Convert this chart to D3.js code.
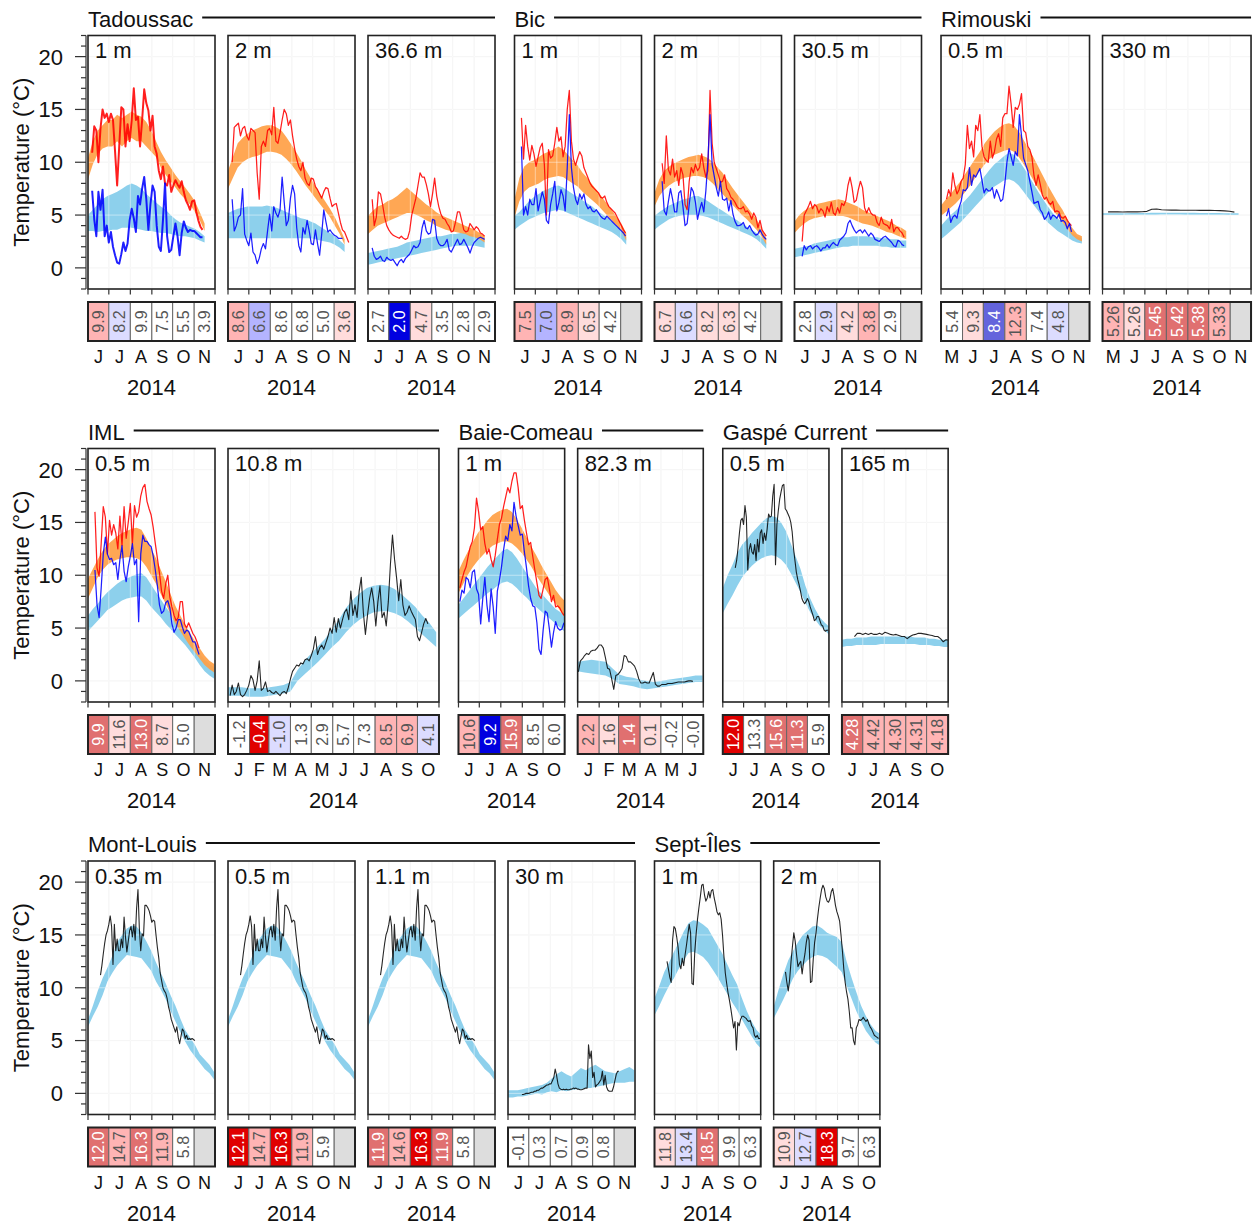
<!DOCTYPE html>
<html><head><meta charset="utf-8">
<script src="https://cdn.jsdelivr.net/npm/d3@7"></script>
<style>body{margin:0;background:#fff}</style>
</head><body><svg id="c" width="1253" height="1224"></svg>
<script>
// ---------------- DATA ----------------
const YEAR = 2014;
const MONTHS = ["J","F","M","A","M","J","J","A","S","O","N","D"];
const Y_TICKS = [0,5,10,15,20];

// Tadoussac 1 m
const tad1OrLo = [8.4,9.8,10.8,11.3,11.5,11.5,12,11.5,12,12.3,12,12,11.5,11,10.5,9.5,8.8,8.2,7.6,7,6.5,6,5.3,4.5,3.5];
const tad1OrHi = [10.4,12,13,13.5,14,14,14.5,14.2,14.5,14.8,14.5,14.3,13.8,13,12,11,10.2,9.5,8.8,8.2,7.6,7,6.3,5.3,4.2];
const tad1LbLo = [3.5,3.5,3.4,3.5,3.5,3.6,3.6,3.8,3.8,3.8,3.7,3.6,3.5,3.5,3.4,3.3,3.3,3.2,3.1,3.0,3.0,2.9,2.8,2.6,2.4];
const tad1LbHi = [5.0,5.5,6.0,6.5,6.8,7.0,7.2,7.5,7.8,8.0,7.8,7.5,7.0,6.6,6.2,5.8,5.5,5.0,4.6,4.3,4.1,3.9,3.7,3.4,3.0];
const tad1Red = [10.9,13.4,13.0,10.0,13.2,15.0,14.2,14.6,13.8,14.6,14.0,11.0,7.8,11.5,15.2,15.0,11.5,13.6,12.0,14.0,17.0,14.0,14.3,11.5,14.0,16.9,15.6,14.9,13.0,14.4,11.5,10.8,9.2,8.4,9.6,8.0,7.8,8.8,7.2,7.8,8.3,7.9,7.6,8.2,7.2,6.4,6.0,5.5,6.3,6.4,5.3,4.5,3.9,3.6];
const tad1Blue = [7.3,4.6,3.0,7.2,5.5,7.4,3.0,4.0,2.4,3.4,2.0,1.2,0.5,0.4,1.3,2.4,1.6,2.3,4.5,5.6,4.7,3.4,6.8,6.0,7.5,8.6,6.5,3.6,6.0,7.8,7.2,4.0,2.0,1.6,4.5,8.0,3.0,1.5,1.7,3.0,4.2,3.0,1.2,3.3,4.4,3.8,3.4,3.6,3.5,3.5,3.3,3.1,2.9,2.9];
const tad1Tab = ["9.9","8.2","9.9","7.5","5.5","3.9"];
const tad1Lv = [2,-1,0,0,0,0];

// Tadoussac 2 m
const tad2OrLo = [7.5,8.5,9.5,10.0,10.3,10.5,10.6,10.8,11.0,11.0,10.9,10.7,10.3,9.8,9.2,8.5,7.8,7.2,6.6,6.0,5.4,4.8,4.0,3.2,2.2];
const tad2OrHi = [9.2,10.5,11.8,12.3,12.7,13.0,13.2,13.4,13.5,13.5,13.3,13.0,12.4,11.7,11.0,10.2,9.3,8.5,7.7,7.0,6.3,5.6,4.8,3.8,2.7];
const tad2LbLo = [2.8,2.8,2.8,2.8,2.8,2.8,2.8,2.8,2.8,2.8,2.8,2.8,2.8,2.8,2.8,2.8,2.8,2.8,2.7,2.6,2.5,2.4,2.2,1.9,1.5];
const tad2LbHi = [5.2,5.4,5.6,5.7,5.8,5.8,5.8,5.8,5.9,5.8,5.7,5.5,5.3,5.1,4.9,4.7,4.6,4.4,4.2,3.9,3.6,3.3,3.0,2.6,2.2];
const tad2Red = [10.0,13.3,13.5,13.7,12.5,13.2,13.4,12.5,12.1,13.2,13.0,12.8,9.0,6.5,11.5,12.0,11.5,13.0,13.2,12.6,15.2,12.0,11.8,12.8,14.0,15.0,14.6,13.5,14.0,12.5,11.3,10.3,9.6,9.2,10.0,8.5,8.0,7.8,8.5,8.4,7.7,7.4,7.0,6.6,7.2,7.6,7.5,6.6,5.8,6.0,6.1,5.2,4.3,3.6,3.4,2.9,2.4];
const tad2Blue = [6.5,3.5,4.0,4.8,5.0,7.5,3.2,2.6,2.1,3.3,1.5,1.2,0.4,0.9,1.8,2.3,1.8,3.5,5.1,3.5,5.8,5.2,4.8,5.5,8.6,6.2,4.0,4.5,6.6,7.8,7.0,3.8,2.1,1.5,3.8,3.2,4.5,3.5,2.3,2.2,3.6,2.3,1.2,3.2,5.5,4.4,3.4,3.6,3.3,3.1,3.0,2.8,2.8,2.8];
const tad2Tab = ["8.6","6.6","8.6","6.8","5.0","3.6"];
const tad2Lv = [2,-2,0,0,0,1];

// Tadoussac 36.6 m
const t36OrLo = [3.2,3.6,4.0,4.2,4.4,4.6,4.8,5.0,5.2,5.2,5.0,4.8,4.5,4.3,4.0,3.8,3.6,3.5,3.4,3.3,3.2,3.0,2.9,2.7,2.4];
const t36OrHi = [4.9,5.4,5.8,6.0,6.3,6.5,6.8,7.2,7.6,7.2,6.8,6.4,6.0,5.7,5.3,5.0,4.8,4.6,4.4,4.2,4.0,3.8,3.6,3.3,3.0];
const t36LbLo = [0.3,0.4,0.5,0.6,0.7,0.8,0.9,1.0,1.1,1.2,1.3,1.4,1.5,1.6,1.7,1.8,1.9,2.0,2.1,2.1,2.1,2.1,2.1,2.0,1.9];
const t36LbHi = [1.4,1.5,1.6,1.7,1.8,1.9,2.0,2.2,2.4,2.5,2.6,2.7,2.8,2.9,3.0,3.0,3.1,3.2,3.2,3.3,3.3,3.2,3.2,3.1,2.9];
const t36Red = [6.5,4.0,4.8,7.2,7.0,6.0,4.8,4.0,3.6,3.3,3.1,3.0,2.9,2.8,3.0,2.8,2.7,2.8,3.5,5.0,5.8,6.6,7.8,9.0,8.6,8.6,7.9,7.0,5.8,7.0,8.5,6.8,5.8,5.1,4.7,4.6,4.2,3.9,3.4,3.5,4.3,5.3,5.3,4.5,3.6,3.4,3.5,4.2,3.9,3.6,3.9,3.7,3.3,3.2,3.0];
const t36Blue = [1.9,1.1,0.8,0.9,1.1,0.7,0.6,1.0,0.8,0.7,0.8,0.5,0.2,0.6,0.8,0.5,0.9,1.1,1.3,1.7,2.1,1.9,2.0,2.4,3.8,4.5,3.5,3.2,3.3,4.6,4.5,2.8,2.3,2.1,2.1,2.3,2.7,1.7,1.5,1.9,2.3,2.7,2.2,2.3,2.7,2.3,1.9,1.4,2.0,2.4,2.6,2.8,2.9,2.8,2.7];
const t36Tab = ["2.7","2.0","4.7","3.5","2.8","2.9"];
const t36Lv = [0,-4,1,0,0,0];

// Bic 1 m
const bic1OrLo = [4.8,6.3,7.2,7.6,7.8,8.0,8.3,8.5,8.6,8.7,8.6,8.3,8.0,7.7,7.2,6.8,6.4,6.0,5.5,5.0,4.5,4.0,3.5,2.6];
const bic1OrHi = [6.5,8.5,9.6,10.0,10.2,10.5,10.8,11.0,11.2,11.5,11.2,10.7,10.2,9.7,9.0,8.5,7.9,7.3,6.7,6.1,5.5,4.8,4.2,3.3];
const bic1LbLo = [3.6,4.0,4.3,4.6,4.8,5.0,5.2,5.3,5.4,5.5,5.4,5.2,5.0,4.8,4.6,4.4,4.2,4.0,3.8,3.6,3.4,3.1,2.7,2.2];
const bic1LbHi = [4.9,5.3,5.8,6.3,6.7,7.0,7.3,7.5,7.7,7.8,7.6,7.3,7.0,6.7,6.4,6.1,5.8,5.4,5.1,4.8,4.4,4.0,3.5,2.9];
const bic1Red = [14.2,10.3,13.5,11.5,10.2,11.6,10.8,9.6,10.5,11.4,11.8,9.8,5.0,11.2,10.4,10.6,11.8,13.3,12.0,12.4,10.5,11.5,15.0,16.8,12.0,10.3,9.7,10.4,11.0,10.6,9.5,9.0,8.5,8.0,7.7,7.5,7.3,7.1,6.7,6.6,6.8,6.2,5.8,5.6,5.4,5.2,4.8,4.4,4.0,3.6,3.3];
const bic1Blue = [11.5,5.0,5.8,5.0,6.5,6.0,6.0,7.5,5.4,6.3,7.2,6.5,4.5,4.2,6.0,7.0,8.2,5.4,6.2,7.4,6.8,5.4,9.5,14.5,9.5,7.6,6.5,6.0,7.0,6.5,7.0,6.0,5.6,5.8,5.4,5.3,5.5,5.2,4.9,4.7,4.6,4.9,4.7,4.5,4.3,4.1,3.9,3.7,3.5,3.3,3.0];
const bic1Tab = ["7.5","7.0","8.9","6.5","4.2",""];
const bic1Lv = [2,-2,2,1,0,null];

// Bic 2 m
const bic2OrLo = [5.8,6.8,7.4,7.8,8.1,8.3,8.5,8.6,8.7,8.7,8.6,8.4,8.0,7.5,7.0,6.5,6.0,5.5,5.0,4.6,4.1,3.6,3.0,2.2];
const bic2OrHi = [7.1,8.4,9.2,9.6,9.9,10.1,10.3,10.5,10.6,10.7,10.6,10.4,10.0,9.5,9.0,8.3,7.6,7.0,6.4,5.8,5.2,4.6,3.8,2.8];
const bic2LbLo = [3.6,4.0,4.3,4.6,4.8,4.9,5.0,5.0,5.0,5.0,4.9,4.8,4.6,4.4,4.2,4.0,3.8,3.6,3.4,3.2,3.0,2.7,2.3,1.8];
const bic2LbHi = [4.9,5.3,5.6,5.9,6.1,6.3,6.5,6.6,6.8,6.8,6.6,6.3,6.0,5.7,5.4,5.1,4.8,4.5,4.2,3.9,3.6,3.3,2.9,2.4];
const bic2Red = [9.9,8.0,12.5,9.3,8.8,10.3,8.6,9.2,7.8,9.5,8.8,6.0,5.5,8.2,9.5,9.0,9.8,9.2,9.5,10.8,9.5,8.6,9.2,16.8,11.8,10.0,9.4,8.8,8.1,8.2,8.8,7.5,7.2,6.7,6.5,6.2,5.8,5.6,5.6,5.8,5.3,5.4,5.1,4.6,5.2,4.8,3.8,4.5,3.6,3.3,3.0];
const bic2Blue = [8.2,5.4,5.0,6.3,7.5,6.5,5.3,5.3,7.1,7.3,5.8,4.0,4.2,6.0,7.6,7.2,6.2,4.6,5.5,6.2,5.3,7.3,10.2,14.5,9.8,8.7,7.6,6.8,8.2,6.5,6.4,6.6,5.4,6.4,5.1,4.4,4.0,4.0,4.1,4.3,3.8,3.7,4.0,3.6,3.3,3.1,3.2,3.6,3.2,2.9,2.7];
const bic2Tab = ["6.7","6.6","8.2","6.3","4.2",""];
const bic2Lv = [1,-1,1,1,0,null];

// Bic 30.5 m
const bic3OrLo = [3.3,3.8,4.2,4.5,4.7,4.8,4.9,4.9,4.9,4.9,4.9,4.8,4.6,4.4,4.2,4.1,4.0,3.8,3.6,3.4,3.3,3.1,2.9,2.7];
const bic3OrHi = [4.4,5.0,5.4,5.7,5.9,6.1,6.2,6.3,6.4,6.5,6.4,6.2,6.0,5.8,5.5,5.3,5.1,4.9,4.7,4.5,4.3,4.0,3.8,3.5];
const bic3LbLo = [1.0,1.1,1.2,1.3,1.4,1.5,1.6,1.7,1.8,1.9,2.0,2.0,2.1,2.1,2.1,2.1,2.1,2.1,2.0,2.0,1.9,1.9,1.9,1.9];
const bic3LbHi = [1.8,1.9,2.0,2.1,2.3,2.4,2.5,2.6,2.7,2.8,2.9,2.9,3.0,3.0,3.0,3.0,2.9,2.9,2.8,2.8,2.7,2.7,2.6,2.6];
const bic3Red = [2.5,5.0,5.4,5.8,6.3,5.6,6.0,5.8,5.2,5.6,5.4,4.8,5.8,5.3,6.2,5.2,5.0,5.7,5.2,6.1,5.9,6.4,7.8,8.6,7.6,6.2,6.4,7.4,8.2,7.6,5.7,5.2,5.7,5.2,5.0,5.0,4.3,4.0,4.8,4.2,4.1,4.0,3.7,4.6,3.4,3.8,3.8,3.5,3.3,2.9];
const bic3Blue = [1.1,2.1,1.7,2.0,2.1,1.8,2.0,2.1,1.9,1.6,1.9,1.9,2.2,1.9,2.2,2.4,2.2,2.1,2.6,2.8,3.0,3.3,4.2,4.5,4.0,3.6,3.3,3.5,3.6,3.3,3.6,3.3,3.0,3.3,3.1,2.7,2.6,2.5,2.7,2.9,3.0,2.8,2.6,2.4,2.1,2.0,2.6,2.5,2.2,2.1];
const bic3Tab = ["2.8","2.9","4.2","3.8","2.9",""];
const bic3Lv = [0,-1,1,2,0,null];

// Rimouski 0.5 m
const rim1OrLo = [4.9,5.3,5.7,6.1,6.6,7.2,7.8,8.5,9.2,9.8,10.3,10.7,10.9,11.1,11.2,11.0,10.5,9.8,9.1,8.3,7.5,6.8,6.1,5.5,4.9,4.3,3.7,3.1,2.7,2.5];
const rim1OrHi = [5.9,6.5,7.0,7.6,8.2,8.9,9.6,10.3,11.0,11.8,12.4,12.9,13.3,13.6,13.7,13.5,12.9,12.1,11.3,10.5,9.6,8.7,7.8,7.0,6.2,5.5,4.6,3.8,3.2,3.0];
const rim1LbLo = [2.7,3.1,3.5,3.9,4.3,4.8,5.3,5.8,6.3,6.8,7.3,7.7,8.0,8.3,8.4,8.2,7.8,7.2,6.6,6.0,5.4,4.8,4.3,3.9,3.5,3.2,2.9,2.6,2.4,2.3];
const rim1LbHi = [4.0,4.5,5.0,5.4,5.9,6.4,6.9,7.5,8.1,8.7,9.3,9.8,10.2,10.6,10.9,10.7,10.2,9.5,8.8,8.0,7.2,6.5,5.8,5.2,4.7,4.3,3.8,3.3,3.0,2.8];
const rim1Red = [6.5,7.4,6.8,9.0,7.8,7.0,7.4,8.2,8.5,9.8,13.5,11.3,12.0,10.5,13.5,13.0,14.5,11.5,10.5,10.2,10.0,12.0,10.4,11.0,12.2,12.7,11.5,14.2,14.6,14.6,17.2,15.5,13.3,15.2,15.0,15.5,16.5,13.0,12.8,11.5,11.2,10.5,8.7,7.8,8.8,7.9,6.9,6.5,6.7,6.2,6.0,6.3,5.3,5.4,5.3,4.8,4.7,4.9,4.5,4.2,4.0];
const rim1Blue = [4.9,5.6,4.3,4.8,5.0,4.7,5.7,6.3,7.4,7.3,7.6,9.5,7.8,8.8,8.6,9.0,9.4,8.3,7.1,7.5,7.3,7.3,7.6,6.6,7.4,6.9,6.3,6.5,8.0,10.0,11.3,10.5,9.7,11.0,10.6,14.5,12.5,10.4,9.8,9.2,8.2,7.2,6.1,6.2,6.3,5.5,5.2,4.6,4.8,5.3,4.6,5.0,4.9,4.7,5.1,4.4,4.5,4.3,3.7,4.2,3.4];
const rim1Tab = ["5.4","9.3","8.4","12.3","7.4","4.8",""];
const rim1Lv = [0,1,-3,2,0,-1,null];

// Rimouski 330 m
const rim2LbLo = [5.0,5.0,5.01,5.0,5.01,5.02,5.02,5.03,5.03,5.04,5.04,5.04,5.05,5.05,5.05,5.05,5.05,5.04,5.04,5.04,5.03,5.03,5.03,5.02,5.02,5.02,5.01,5.0,5.0];
const rim2LbHi = [5.16,5.16,5.17,5.17,5.18,5.18,5.19,5.19,5.2,5.2,5.21,5.21,5.21,5.22,5.22,5.22,5.22,5.21,5.21,5.21,5.2,5.2,5.2,5.19,5.19,5.18,5.18,5.17,5.16];
const rim2Black = [5.3,5.31,5.3,5.29,5.3,5.31,5.3,5.32,5.35,5.55,5.58,5.5,5.48,5.47,5.47,5.46,5.46,5.45,5.45,5.44,5.45,5.44,5.43,5.42,5.4,5.36,5.28];
const rim2Tab = ["5.26","5.26","5.45","5.42","5.38","5.33",""];
const rim2Lv = [2,1,3,3,3,2,null];

// IML 0.5 m
const iml1OrLo = [7.8,8.8,9.8,10.5,11.0,11.3,11.5,11.6,11.7,11.7,11.6,11.4,10.8,10.0,9.2,8.2,7.3,6.3,5.4,4.7,4.0,3.3,2.7,2.1,1.5,1.1,0.8];
const iml1OrHi = [9.7,10.6,11.5,12.3,12.9,13.3,13.7,14.0,14.2,14.4,14.5,14.3,13.5,12.5,11.6,10.5,9.4,8.2,7.1,6.2,5.3,4.5,3.8,3.1,2.4,1.9,1.6];
const iml1LbLo = [4.7,5.2,5.7,6.2,6.7,7.0,7.3,7.6,7.8,7.9,8.0,8.0,7.6,7.0,6.5,6.0,5.4,4.9,4.4,3.9,3.4,2.8,2.2,1.5,0.9,0.5,0.2];
const iml1LbHi = [6.2,6.8,7.3,7.9,8.4,8.8,9.2,9.5,9.7,9.9,10.1,10.2,9.8,9.1,8.4,7.7,7.0,6.4,5.8,5.2,4.6,4.0,3.3,2.6,2.0,1.6,1.3];
const iml1Red = [16.0,10.7,9.9,13.0,16.5,15.5,12.0,15.2,13.8,14.8,14.0,12.5,15.6,12.8,16.5,13.5,15.0,16.8,13.0,16.6,15.5,16.0,17.5,18.3,18.6,17.0,16.3,15.7,14.5,13.0,11.6,10.2,8.5,7.8,9.2,10.0,7.9,7.0,6.2,5.7,6.0,7.5,7.5,5.4,5.0,5.5,5.0,4.5,4.2,3.7,3.1];
const iml1Blue = [10.5,7.2,6.0,8.8,12.0,13.6,12.0,11.5,11.6,11.0,11.2,9.6,11.5,12.8,10.4,9.4,10.8,11.8,13.0,11.0,11.5,5.6,12.0,13.8,13.2,13.2,12.9,12.7,11.8,10.5,9.0,7.2,6.4,6.6,7.4,7.6,6.9,5.4,4.6,5.0,5.8,5.8,5.1,4.5,4.8,4.7,4.2,3.7,3.7,3.1,2.5];
const iml1Tab = ["9.9","11.6","13.0","8.7","5.0",""];
const iml1Lv = [3,1,3,1,0,null];

// IML 10.8 m
const iml2LbLo = [-1.4,-1.4,-1.4,-1.5,-1.5,-1.5,-1.4,-1.3,-1.2,-1.0,0.0,0.6,1.2,1.8,2.5,3.2,3.8,4.6,5.3,5.8,6.2,6.5,6.6,6.6,6.4,6.1,5.6,5.0,4.4,3.8,3.2];
const iml2LbHi = [-0.6,-0.6,-0.6,-0.7,-0.7,-0.7,-0.6,-0.5,-0.4,-0.1,1.0,1.9,2.6,3.3,4.0,4.9,5.8,6.9,7.7,8.3,8.8,9.0,9.1,9.0,8.7,8.2,7.6,7.0,6.2,5.5,4.6];
const iml2Black = [-1.4,-0.4,-1.3,-1.0,-0.2,-1.3,-1.5,-1.3,-0.9,-0.4,0.5,0.1,-0.9,0.0,1.9,-0.9,-0.7,-0.1,-1.0,-0.9,-1.1,-1.2,-1.0,-1.2,-1.4,-1.1,-1.0,-1.2,-0.6,0.2,0.9,1.2,1.5,1.4,1.7,1.6,2.0,2.1,1.9,2.4,3.0,4.2,2.5,3.1,3.4,3.0,3.6,4.2,5.0,4.5,6.0,4.6,5.9,5.0,5.8,6.5,6.8,5.8,8.5,6.2,7.2,6.0,8.5,9.8,6.5,4.4,6.2,7.8,8.8,7.5,5.2,7.5,9.0,6.0,6.5,5.2,7.5,11.0,13.8,11.5,9.7,7.6,9.6,7.2,6.2,6.5,7.1,6.6,6.2,5.8,4.2,3.8,4.6,5.4,5.9,5.4];
const iml2Tab = ["-1.2","-0.4","-1.0","1.3","2.9","5.7","7.3","8.5","6.9","4.1"];
const iml2Lv = [0,4,-1,0,0,0,0,2,2,-1];

// Baie-Comeau 1 m
const bc1OrLo = [8.3,9.2,10.1,10.8,11.4,11.9,12.4,12.8,13.0,13.2,13.2,13.0,12.6,12.1,11.5,10.8,10.0,9.3,8.6,7.9,7.3,6.6,5.9];
const bc1OrHi = [10.4,11.4,12.3,13.2,14.0,14.6,15.2,15.7,16.0,16.2,16.3,16.0,15.3,14.5,13.6,12.7,11.9,11.0,10.2,9.4,8.6,8.0,7.5];
const bc1LbLo = [5.9,6.3,6.7,7.1,7.5,7.9,8.3,8.6,9.0,9.3,9.4,9.2,8.8,8.3,7.9,7.4,7.0,6.6,6.2,5.8,5.4,5.0,4.6];
const bc1LbHi = [7.2,7.8,8.4,9.0,9.6,10.2,10.8,11.3,11.8,12.3,12.5,12.2,11.6,10.9,10.2,9.5,8.8,8.3,7.8,7.3,6.8,6.5,6.2];
const bc1Red = [8.8,9.6,10.3,10.8,11.8,12.7,13.2,14.5,17.3,16.0,14.3,14.6,13.0,12.0,12.5,11.5,10.8,11.9,13.4,14.8,15.4,16.5,17.4,18.3,17.8,18.9,19.7,19.7,18.3,16.3,16.6,15.2,14.0,12.9,13.1,11.8,10.5,9.3,8.1,7.8,8.7,9.6,9.8,8.7,7.5,8.1,7.0,7.1,6.9,6.5,6.2];
const bc1Blue = [7.5,8.6,8.3,9.8,9.6,8.8,10.3,10.5,8.7,8.2,5.4,7.8,9.8,7.2,5.6,8.7,7.0,4.5,8.5,9.5,10.8,12.4,13.7,13.3,14.8,14.2,16.9,15.6,14.7,13.8,13.9,12.2,10.7,9.0,7.8,7.1,7.0,5.5,3.0,2.5,4.8,6.6,6.4,4.9,3.2,4.6,5.6,5.0,4.8,4.9,5.5];
const bc1Tab = ["10.6","9.2","15.9","8.5","6.0"];
const bc1Lv = [2,-4,3,0,0];

// Baie-Comeau 82.3 m
const bc2LbLo = [0.9,0.8,0.7,0.6,0.5,0.2,-0.3,-0.4,-0.5,-0.7,-0.8,-0.7,-0.6,-0.5,-0.4,-0.3,-0.2,-0.1,-0.1];
const bc2LbHi = [1.8,1.9,2.0,1.9,1.8,1.2,0.6,0.4,0.3,0.1,0.0,-0.1,0.0,0.1,0.2,0.3,0.4,0.5,0.5];
const bc2Black = [0.85,1.9,2.1,2.4,2.6,2.5,2.8,2.9,2.9,3.1,3.4,3.4,3.1,2.2,1.2,1.1,0.2,-0.8,0.5,0.6,0.85,1.2,2.4,2.3,1.8,1.8,1.6,1.4,0.9,0.2,-0.2,-0.2,-0.1,-0.2,-0.2,0.3,0.8,-0.3,-0.5,-0.5,-0.35,-0.35,-0.35,-0.25,-0.25,-0.25,-0.2,-0.15,-0.1,-0.1,-0.1,-0.1,-0.05,0.0,0.0,-0.05];
const bc2Tab = ["2.2","1.6","1.4","0.1","-0.2","-0.0"];
const bc2Lv = [2,1,3,1,0,0];

// Gaspé Current 0.5 m
const gc1LbLo = [6.4,7.3,8.1,9.0,9.8,10.4,10.9,11.3,11.6,11.8,11.9,11.8,11.5,11.0,10.2,9.3,8.4,7.4,6.5,5.8,5.2,4.8,4.3];
const gc1LbHi = [8.8,10.0,11.0,12.1,12.9,13.4,14.0,14.5,15.0,15.4,15.6,15.5,15.0,14.2,13.0,11.8,10.6,9.0,7.8,6.8,6.0,5.5,5.1];
const gc1Black = [10.7,11.4,12.6,14.0,15.2,15.4,14.8,16.6,15.5,10.5,12.4,13.0,12.2,12.0,12.9,11.4,13.4,12.2,14.0,14.3,13.0,14.0,13.3,14.4,15.8,15.5,15.6,17.5,18.6,11.0,14.8,16.1,17.2,17.9,18.5,18.6,16.3,16.1,15.8,15.5,15.0,14.1,12.5,11.4,10.3,9.6,9.1,8.5,7.8,7.5,7.3,7.5,7.8,7.5,7.0,6.6,6.2,5.7,5.8,6.1,6.1,5.7,5.3,5.2,4.8,4.7,4.8,4.8];
const gc1Tab = ["12.0","13.3","15.6","11.3","5.9"];
const gc1Lv = [4,0,3,3,0];

// Gaspé Current 165 m
const gc2LbLo = [3.2,3.3,3.3,3.4,3.4,3.4,3.4,3.4,3.5,3.5,3.5,3.5,3.5,3.5,3.5,3.5,3.4,3.4,3.4,3.3,3.3,3.2,3.2];
const gc2LbHi = [3.9,4.0,4.0,4.1,4.1,4.1,4.2,4.2,4.2,4.2,4.2,4.2,4.2,4.2,4.2,4.1,4.1,4.1,4.0,4.0,3.9,3.9,3.9];
const gc2Black = [4.2,4.5,4.5,4.4,4.5,4.4,4.5,4.4,4.4,4.5,4.4,4.6,4.5,4.4,4.35,4.4,4.3,4.2,4.2,4.0,4.2,4.35,4.4,4.5,4.5,4.45,4.4,4.35,4.3,4.2,4.2,4.0,3.7,3.9,3.85];
const gc2Tab = ["4.28","4.42","4.30","4.31","4.18"];
const gc2Lv = [3,2,2,2,2];

// Mont-Louis surface (0.35 m, 0.5 m, 1.1 m read identical in the figure)
const mlLbLo = [6.3,7.3,8.2,9.3,10.6,11.4,12.1,12.6,13.1,13.0,12.9,12.8,12.2,11.6,10.6,9.8,8.9,7.8,6.8,5.8,4.9,4.1,3.5,2.9,2.3,1.9,1.3];
const mlLbHi = [7.0,8.3,9.7,10.9,11.9,13.0,14.3,15.0,15.6,15.9,15.8,15.2,14.4,13.5,12.4,11.4,10.4,9.3,8.3,7.1,6.0,5.3,4.6,3.7,3.2,2.7,2.0];
const mlBlack = [11.2,12.1,13.2,14.2,15.0,15.4,16.0,16.8,15.8,12.2,16.0,13.5,14.6,13.5,13.5,14.6,13.8,16.7,14.8,13.4,14.4,15.4,15.8,14.8,16.0,14.5,17.5,19.3,15.6,13.5,15.1,14.9,17.8,17.8,17.6,17.3,16.8,16.2,16.4,16.3,15.0,13.8,12.8,11.4,10.7,10.0,9.7,9.5,9.0,8.2,7.7,7.0,6.6,6.2,5.8,6.3,5.3,4.7,5.4,6.1,5.9,5.2,5.5,5.1,5.2,5.1,5.2,5.1,5.0];
const ml1Tab = ["12.0","14.7","16.3","11.9","5.8",""];
const ml1Lv = [3,2,3,2,0,null];
const ml2Tab = ["12.1","14.7","16.3","11.9","5.9",""];
const ml2Lv = [4,2,4,2,0,null];
const ml3Tab = ["11.9","14.6","16.3","11.9","5.8",""];
const ml3Lv = [3,2,4,3,0,null];

// Mont-Louis 30 m
const ml30LbLo = [-0.4,-0.4,-0.3,-0.3,-0.2,-0.1,0.0,-0.1,0.1,0.2,0.1,0.3,0.2,0.3,0.4,0.4,0.5,0.5,0.6,0.7,0.8,0.9,1.0,1.0,1.0,1.1,1.1];
const ml30LbHi = [0.3,0.3,0.3,0.4,0.5,0.6,0.7,0.8,1.0,1.4,1.8,2.1,1.8,1.6,2.0,2.4,2.2,2.5,2.7,2.4,2.1,2.0,1.9,2.1,2.3,2.5,2.2];
const ml30Black = [-0.1,-0.1,-0.05,0.0,0.0,0.0,0.05,0.1,0.1,0.2,0.2,0.3,0.3,0.4,0.5,0.5,0.6,0.7,0.8,0.8,0.9,0.9,1.2,1.5,2.3,1.7,0.9,0.5,0.4,0.35,0.4,0.35,0.4,0.35,0.35,0.4,0.4,0.5,0.45,0.5,0.4,0.4,0.35,0.35,0.4,0.45,0.5,0.5,4.6,3.3,4.0,1.5,2.0,0.6,0.8,0.9,1.1,1.3,2.1,0.8,1.7,0.6,0.3,0.2,0.2,0.2,0.6,1.2,1.8,2.1,2.1];
const ml4Tab = ["-0.1","0.3","0.7","0.9","0.8",""];
const ml4Lv = [0,0,0,0,0,null];

// Sept-Îles 1 m
const si1LbLo = [7.4,8.3,9.3,10.2,10.9,11.8,12.6,13.3,13.4,13.2,12.9,12.4,11.7,11.0,10.2,9.4,8.6,7.9,7.0,6.2,5.4,4.7,4.2];
const si1LbHi = [9.0,10.2,11.5,12.4,13.4,14.3,15.3,16.1,16.4,16.3,16.0,15.6,14.8,14.0,13.2,12.2,11.2,10.3,9.0,7.8,6.8,6.0,5.5];
const si1Black = [12.5,11.8,11.0,10.5,14.5,15.8,15.6,14.8,13.8,12.2,11.8,12.8,12.1,13.1,14.0,15.0,16.0,15.2,10.4,10.3,13.4,15.1,16.5,17.6,18.6,19.7,19.8,18.8,18.2,18.5,19.1,18.5,19.2,19.3,18.5,17.9,17.2,16.9,17.1,16.5,15.0,13.0,11.4,10.4,9.5,8.8,8.0,7.1,6.2,6.8,4.1,6.7,6.4,7.0,7.3,7.3,7.2,7.1,6.9,6.8,6.9,6.4,6.2,5.5,5.3,5.5,5.2,5.2];
const si1Tab = ["11.8","13.4","18.5","9.9","6.3"];
const si1Lv = [1,-1,3,0,0];

// Sept-Îles 2 m
const si2LbLo = [7.1,8.0,8.9,9.9,10.9,11.6,12.1,12.6,12.9,13.1,13.0,12.8,12.4,12.0,11.5,10.2,9.0,7.8,6.8,5.9,5.3,4.8,4.5];
const si2LbHi = [8.2,9.8,11.3,12.6,13.5,14.3,15.0,15.4,15.8,15.9,15.6,15.2,15.0,14.8,14.3,12.5,11.0,9.6,8.3,7.3,6.5,5.9,5.6];
const si2Black = [11.5,10.5,9.7,10.8,12.5,13.9,15.2,14.4,13.1,12.0,12.3,12.5,11.3,12.4,13.2,14.3,15.0,14.5,10.5,10.6,12.7,14.3,15.2,16.5,17.6,18.5,19.3,19.7,19.4,18.6,18.2,18.1,18.4,19.1,19.4,18.7,17.8,17.2,16.8,16.3,15.0,13.5,11.8,10.5,9.6,8.9,7.7,6.2,6.2,5.0,4.6,6.2,6.5,7.0,6.9,7.0,7.2,7.0,6.8,7.0,6.6,6.3,6.1,5.8,5.5,5.4,5.3,5.2];
const si2Tab = ["10.9","12.7","18.3","9.7","6.3"];
const si2Lv = [1,-1,4,0,0];

// ---------------- PANEL DEFINITIONS (time: start day offset s, step k in days) ----------------
const B = (lo, hi, s, k, c) => ({lo, hi, s, k, c});
const L = (v, s, k, c) => ({v, s, k, c});

const rows = [
  [
    {name:"Tadoussac", panels:[
      {label:"1 m", m0:5, nm:6, bands:[B(tad1LbLo,tad1LbHi,0,7,"lb"),B(tad1OrLo,tad1OrHi,0,7,"or")], lines:[L(tad1Red,6,3,"red"),L(tad1Blue,6,3,"blue")], tab:tad1Tab, lv:tad1Lv, lw:2},
      {label:"2 m", m0:5, nm:6, bands:[B(tad2LbLo,tad2LbHi,0,7,"lb"),B(tad2OrLo,tad2OrHi,0,7,"or")], lines:[L(tad2Red,6,3,"red"),L(tad2Blue,6,3,"blue")], tab:tad2Tab, lv:tad2Lv},
      {label:"36.6 m", m0:5, nm:6, bands:[B(t36LbLo,t36LbHi,0,7,"lb"),B(t36OrLo,t36OrHi,0,7,"or")], lines:[L(t36Red,6,3,"red"),L(t36Blue,6,3,"blue")], tab:t36Tab, lv:t36Lv}
    ]},
    {name:"Bic", panels:[
      {label:"1 m", m0:5, nm:6, bands:[B(bic1LbLo,bic1LbHi,0,7,"lb"),B(bic1OrLo,bic1OrHi,0,7,"or")], lines:[L(bic1Red,10,3,"red"),L(bic1Blue,10,3,"blue")], tab:bic1Tab, lv:bic1Lv},
      {label:"2 m", m0:5, nm:6, bands:[B(bic2LbLo,bic2LbHi,0,7,"lb"),B(bic2OrLo,bic2OrHi,0,7,"or")], lines:[L(bic2Red,11,3,"red"),L(bic2Blue,11,3,"blue")], tab:bic2Tab, lv:bic2Lv},
      {label:"30.5 m", m0:5, nm:6, bands:[B(bic3LbLo,bic3LbHi,0,7,"lb"),B(bic3OrLo,bic3OrHi,0,7,"or")], lines:[L(bic3Red,11,3,"red"),L(bic3Blue,11,3,"blue")], tab:bic3Tab, lv:bic3Lv}
    ]},
    {name:"Rimouski", panels:[
      {label:"0.5 m", m0:4, nm:7, bands:[B(rim1LbLo,rim1LbHi,0,7,"lb"),B(rim1OrLo,rim1OrHi,0,7,"or")], lines:[L(rim1Red,8,3,"red"),L(rim1Blue,8,3,"blue")], tab:rim1Tab, lv:rim1Lv},
      {label:"330 m", m0:4, nm:7, bands:[B(rim2LbLo,rim2LbHi,0,7,"lb")], lines:[L(rim2Black,8,7,"black")], tab:rim2Tab, lv:rim2Lv}
    ]}
  ],
  [
    {name:"IML", panels:[
      {label:"0.5 m", m0:5, nm:6, bands:[B(iml1LbLo,iml1LbHi,0,7,"lb"),B(iml1OrLo,iml1OrHi,0,7,"or")], lines:[L(iml1Red,10,3,"red"),L(iml1Blue,10,3,"blue")], tab:iml1Tab, lv:iml1Lv},
      {label:"10.8 m", m0:0, nm:10, bands:[B(iml2LbLo,iml2LbHi,0,10,"lb")], lines:[L(iml2Black,3,3,"black")], tab:iml2Tab, lv:iml2Lv}
    ]},
    {name:"Baie-Comeau", panels:[
      {label:"1 m", m0:5, nm:5, bands:[B(bc1LbLo,bc1LbHi,0,7,"lb"),B(bc1OrLo,bc1OrHi,0,7,"or")], lines:[L(bc1Red,2,3,"red"),L(bc1Blue,2,3,"blue")], tab:bc1Tab, lv:bc1Lv},
      {label:"82.3 m", m0:0, nm:6, bands:[B(bc2LbLo,bc2LbHi,0,10,"lb")], lines:[L(bc2Black,1,3,"black")], tab:bc2Tab, lv:bc2Lv}
    ]},
    {name:"Gaspé Current", panels:[
      {label:"0.5 m", m0:5, nm:5, bands:[B(gc1LbLo,gc1LbHi,0,7,"lb")], lines:[L(gc1Black,18,2,"black")], tab:gc1Tab, lv:gc1Lv},
      {label:"165 m", m0:5, nm:5, bands:[B(gc2LbLo,gc2LbHi,0,7,"lb")], lines:[L(gc2Black,18,4,"black")], tab:gc2Tab, lv:gc2Lv}
    ]}
  ],
  [
    {name:"Mont-Louis", panels:[
      {label:"0.35 m", m0:5, nm:6, bands:[B(mlLbLo,mlLbHi,0,7,"lb")], lines:[L(mlBlack,18,2,"black")], tab:ml1Tab, lv:ml1Lv},
      {label:"0.5 m", m0:5, nm:6, bands:[B(mlLbLo,mlLbHi,0,7,"lb")], lines:[L(mlBlack,18,2,"black")], tab:ml2Tab, lv:ml2Lv},
      {label:"1.1 m", m0:5, nm:6, bands:[B(mlLbLo,mlLbHi,0,7,"lb")], lines:[L(mlBlack,18,2,"black")], tab:ml3Tab, lv:ml3Lv},
      {label:"30 m", m0:5, nm:6, bands:[B(ml30LbLo,ml30LbHi,0,7,"lb")], lines:[L(ml30Black,20,2,"black")], tab:ml4Tab, lv:ml4Lv}
    ]},
    {name:"Sept-Îles", panels:[
      {label:"1 m", m0:5, nm:5, bands:[B(si1LbLo,si1LbHi,0,7,"lb")], lines:[L(si1Black,18,2,"black")], tab:si1Tab, lv:si1Lv},
      {label:"2 m", m0:5, nm:5, bands:[B(si2LbLo,si2LbHi,0,7,"lb")], lines:[L(si2Black,17,2,"black")], tab:si2Tab, lv:si2Lv}
    ]}
  ]
];

// ---------------- STYLE / LAYOUT ----------------
const FONT = '"Liberation Sans", Arial, Helvetica, sans-serif';
const PX_PER_DAY = 0.694;
const ROW_TOP = [35.5, 448.5, 861];
const BOX_H = 253.5;
const X_START = 88, GAP = 13, GROUP_GAP = 19.5;
const FILL = {lb:"#87ceeb", or:"#ff9f45"};
const STROKE = {red:"#ff0000", blue:"#0000ff", black:"#000000"};
const LEVEL_COL = {"-4":"#0000e0","-3":"#6464dc","-2":"#b4b4ff","-1":"#dcdcff","0":"#ffffff","1":"#ffdcdc","2":"#ffb4b4","3":"#e07070","4":"#e00000"};

const svg = d3.select("#c");
svg.append("rect").attr("width",1253).attr("height",1224).attr("fill","#fff");
let clipId = 0;

function drawPanel(p, x0, w, top, y, first) {
  const t0 = new Date(YEAR, p.m0, 1), t1 = new Date(YEAR, p.m0 + p.nm, 1);
  const xs = d3.scaleTime().domain([t0, t1]).range([x0, x0 + w]);
  const bottom = top + BOX_H;
  const g = svg.append("g");
  const cid = "clip" + (clipId++);
  g.append("clipPath").attr("id", cid).append("rect")
    .attr("x", x0).attr("y", top).attr("width", w).attr("height", BOX_H);
  const inner = g.append("g").attr("clip-path", `url(#${cid})`);
  const dt = d => new Date(YEAR, p.m0, 1 + d);
  const monthTicks = d3.range(p.nm + 1).map(i => new Date(YEAR, p.m0 + i, 1));

  // light grid under bands
  const grid = sel => {
    sel.selectAll(null).data(Y_TICKS).join("line")
      .attr("x1", x0).attr("x2", x0 + w).attr("y1", d => y(d)).attr("y2", d => y(d));
    sel.selectAll(null).data(monthTicks.slice(1, -1)).join("line")
      .attr("x1", d => xs(d)).attr("x2", d => xs(d)).attr("y1", top).attr("y2", bottom);
  };
  inner.append("g").attr("stroke", "#efefef").attr("stroke-width", 1).call(grid);

  // bands
  p.bands.forEach(b => {
    const pts = b.lo.map((v, i) => ({t: dt(b.s + i * b.k), lo: v, hi: b.hi[i]}));
    inner.append("path").datum(pts)
      .attr("d", d3.area().x(d => xs(d.t)).y0(d => y(d.lo)).y1(d => y(d.hi)))
      .attr("fill", FILL[b.c]).attr("opacity", b.c === "or" ? 0.92 : 0.95);
  });
  // grid faintly over bands
  inner.append("g").attr("stroke", "#ffffff").attr("stroke-opacity", 0.45).attr("stroke-width", 1).call(grid);

  // lines
  p.lines.forEach(l => {
    const pts = l.v.map((v, i) => ({t: dt(l.s + i * l.k), v}));
    inner.append("path").datum(pts)
      .attr("d", d3.line().x(d => xs(d.t)).y(d => y(d.v)))
      .attr("fill", "none").attr("stroke", STROKE[l.c])
      .attr("stroke-width", l.c === "black" ? 1.1 : (p.lw || 1.25))
      .attr("stroke-opacity", l.c === "black" ? 0.85 : 0.88)
      .attr("stroke-linejoin", "round");
  });

  // frame
  g.append("rect").attr("x", x0).attr("y", top).attr("width", w).attr("height", BOX_H)
    .attr("fill", "none").attr("stroke", "#222").attr("stroke-width", 1.6);

  // depth label
  g.append("text").attr("x", x0 + 7).attr("y", top + 22.5).text(p.label)
    .attr("font-family", FONT).attr("font-size", 22).attr("fill", "#111");

  // x ticks
  g.selectAll(null).data(monthTicks).join("line")
    .attr("x1", d => xs(d)).attr("x2", d => xs(d)).attr("y1", bottom).attr("y2", bottom + 5.5)
    .attr("stroke", "#333").attr("stroke-width", 1.2);

  // table
  const tTop = bottom + 13, tH = 39;
  const cells = d3.range(p.nm).map(i => ({a: monthTicks[i], b: monthTicks[i + 1], val: p.tab[i], lv: p.lv[i], m: MONTHS[(p.m0 + i) % 12]}));
  g.selectAll(null).data(cells).join("rect")
    .attr("x", d => xs(d.a)).attr("y", tTop).attr("width", d => xs(d.b) - xs(d.a)).attr("height", tH)
    .attr("fill", d => d.lv === null ? "#dddddd" : LEVEL_COL[d.lv])
    .attr("stroke", "#666").attr("stroke-width", 1);
  g.append("rect").attr("x", x0).attr("y", tTop).attr("width", w).attr("height", tH)
    .attr("fill", "none").attr("stroke", "#222").attr("stroke-width", 2);
  g.selectAll(null).data(cells.filter(d => d.lv !== null)).join("text")
    .attr("transform", d => `translate(${(xs(d.a) + xs(d.b)) / 2},${tTop + tH / 2}) rotate(-90)`)
    .attr("text-anchor", "middle").attr("dy", "0.36em")
    .attr("font-family", FONT).attr("font-size", 16)
    .attr("fill", d => Math.abs(d.lv) >= 3 ? "#ffffff" : "#555555")
    .text(d => d.val);

  // month letters and year
  g.selectAll(null).data(cells).join("text")
    .attr("x", d => (xs(d.a) + xs(d.b)) / 2).attr("y", tTop + tH + 22)
    .attr("text-anchor", "middle").attr("font-family", FONT).attr("font-size", 18).attr("fill", "#111")
    .text(d => d.m);
  g.append("text").attr("x", x0 + w / 2).attr("y", tTop + tH + 54)
    .attr("text-anchor", "middle").attr("font-family", FONT).attr("font-size", 22).attr("fill", "#111")
    .text(String(YEAR));

  // y axis on first panel in row
  if (first) {
    const ax = x0 - 2;
    const ya = svg.append("g");
    ya.append("line").attr("x1", ax).attr("x2", ax).attr("y1", top).attr("y2", bottom)
      .attr("stroke", "#333").attr("stroke-width", 1.2);
    ya.selectAll(null).data(d3.range(-2, 23)).join("line")
      .attr("x1", d => ax - (d % 5 === 0 ? 11 : 5)).attr("x2", ax)
      .attr("y1", d => y(d)).attr("y2", d => y(d))
      .attr("stroke", "#333").attr("stroke-width", 1.2);
    ya.selectAll(null).data(Y_TICKS).join("text")
      .attr("x", 63).attr("y", d => y(d)).attr("dy", "0.36em").attr("text-anchor", "end")
      .attr("font-family", FONT).attr("font-size", 22).attr("fill", "#111").text(d => d);
    ya.append("text").attr("transform", `translate(29,${top + BOX_H / 2}) rotate(-90)`)
      .attr("text-anchor", "middle").attr("font-family", FONT).attr("font-size", 22).attr("fill", "#111")
      .text("Temperature (°C)");
  }
}

rows.forEach((groups, r) => {
  const top = ROW_TOP[r];
  const y = d3.scaleLinear().domain([-2, 22]).range([top + BOX_H, top]);
  let x = X_START;
  groups.forEach((grp, gi) => {
    const gx0 = x;
    grp.panels.forEach((p, pi) => {
      const days = Math.round((new Date(YEAR, p.m0 + p.nm, 1) - new Date(YEAR, p.m0, 1)) / 864e5);
      const w = days * PX_PER_DAY;
      drawPanel(p, x, w, top, y, gi === 0 && pi === 0);
      x += w + GAP;
    });
    const gx1 = x - GAP;
    const t = svg.append("text").attr("x", gx0).attr("y", top - 9)
      .attr("font-family", FONT).attr("font-size", 22).attr("fill", "#111").text(grp.name);
    const tw = t.node().getComputedTextLength();
    svg.append("line").attr("x1", gx0 + tw + 9).attr("x2", gx1)
      .attr("y1", top - 18).attr("y2", top - 18).attr("stroke", "#111").attr("stroke-width", 2);
    x += GROUP_GAP - GAP;
  });
});
</script></body></html>
